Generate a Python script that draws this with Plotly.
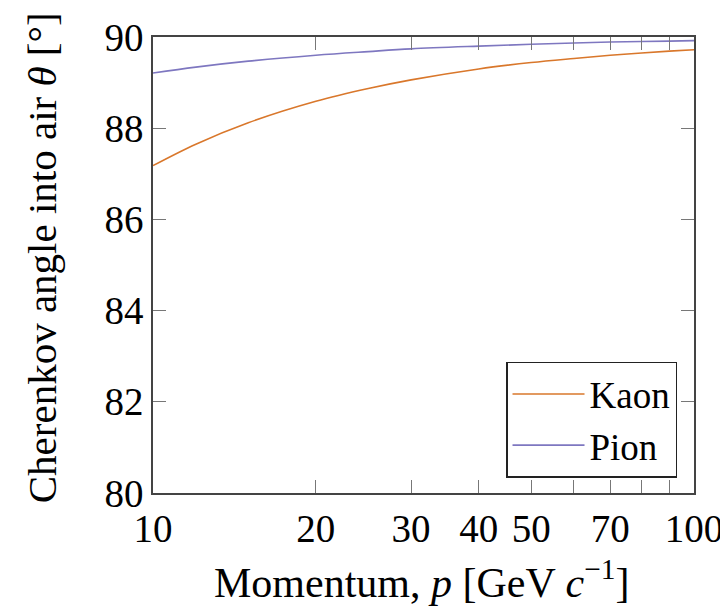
import plotly.graph_objects as go

momentum = [10, 12, 15, 20, 25, 30, 40, 50, 60, 70, 80, 90, 100]
kaon_theta = [87.18, 87.65, 88.12, 88.59, 88.87, 89.06, 89.30, 89.44, 89.53, 89.60, 89.65, 89.69, 89.72]
pion_theta = [89.21, 89.34, 89.47, 89.60, 89.68, 89.74, 89.80, 89.84, 89.87, 89.89, 89.90, 89.91, 89.92]

x_tickvals = [10, 20, 30, 40, 50, 60, 70, 80, 90, 100]
x_ticktext = ["10", "20", "30", "40", "50", "", "70", "", "", "100"]
y_tickvals = [80, 82, 84, 86, 88, 90]

FONT = "Liberation Serif"

fig = go.Figure()
fig.add_trace(go.Scatter(x=momentum, y=kaon_theta, mode="lines", name="Kaon",
                         line=dict(color="#D9772B", width=1.6, shape="spline")))
fig.add_trace(go.Scatter(x=momentum, y=pion_theta, mode="lines", name="Pion",
                         line=dict(color="#7E77C0", width=1.6, shape="spline")))

axis_common = dict(showline=True, linecolor="#444", linewidth=1.5, mirror="ticks",
                   ticks="inside", ticklen=13, tickcolor="#777", tickwidth=1,
                   showgrid=False, zeroline=False, automargin=False,
                   tickfont=dict(family=FONT, size=39, color="black"))

fig.update_layout(
    width=728, height=608,
    margin=dict(l=145, r=42, t=29, b=123),
    paper_bgcolor="white", plot_bgcolor="white",
    font=dict(family=FONT, color="black", size=40),
    showlegend=True,
    legend=dict(x=0.9686, y=0.033, xanchor="right", yanchor="bottom",
                bordercolor="#222", borderwidth=1.5, bgcolor="white",
                font=dict(family=FONT, size=37, color="black"),
                itemwidth=72, tracegroupgap=0),
    xaxis=dict(type="log", range=[1, 2], tickvals=x_tickvals, ticktext=x_ticktext,
               **axis_common),
    yaxis=dict(range=[80, 90], tickvals=y_tickvals, **axis_common),
    annotations=[
        dict(text="Cherenkov angle into air <i>θ</i> [°]",
             textangle=-90, xref="paper", yref="paper",
             x=-0.205, y=0.515, xanchor="center", yanchor="middle",
             showarrow=False, font=dict(family=FONT, size=41, color="black")),
        dict(text="Momentum, <i>p</i> [GeV <i>c</i><sup>−1</sup>]",
             xref="paper", yref="paper",
             x=0.496, y=-0.19, xanchor="center", yanchor="middle",
             showarrow=False, font=dict(family=FONT, size=42, color="black")),
    ],
)

fig.write_html("out.html")
